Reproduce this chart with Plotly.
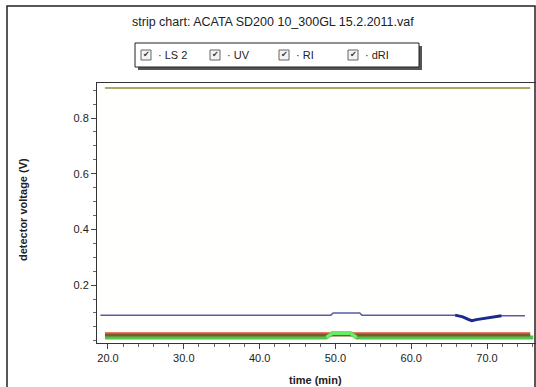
import plotly.graph_objects as go

# ---- data ----
title_text = "strip chart: ACATA SD200 10_300GL 15.2.2011.vaf"
legend_labels = ["LS 2", "UV", "RI", "dRI"]

x_ticks = [20.0, 30.0, 40.0, 50.0, 60.0, 70.0]
y_ticks = [0.2, 0.4, 0.6, 0.8]

ls2_time = [19.0, 49.4, 49.7, 53.2, 53.5, 65.8, 66.8, 67.6, 68.0, 68.6, 69.4, 70.2, 71.0, 71.9, 75.0]
ls2_volt = [0.092, 0.092, 0.100, 0.100, 0.092, 0.092, 0.086, 0.076, 0.072, 0.076, 0.080, 0.084, 0.087, 0.090, 0.090]
dip_start, dip_end = 5, 13

uv_time = [19.6, 75.7]
uv_volt = [0.027, 0.027]

ri_time = [19.6, 75.7]
ri_volt = [0.020, 0.020]

dri_time = [19.6, 48.8, 49.6, 52.0, 52.8, 76.1]
dri_volt = [0.012, 0.012, 0.027, 0.027, 0.012, 0.012]
bump_start, bump_end = 1, 4

top_time = [19.6, 75.7]
top_volt = [0.908, 0.908]

# ---- layout helpers (pixel -> paper) ----
W, H = 536, 387
L, R, T, B = 97, 0, 83, 44
PW, PH = W - L - R, H - T - B


def px(x):
    return (x - L) / PW


def py(y):
    return (H - B - y) / PH


fig = go.Figure()

fig.add_trace(go.Scatter(x=top_time, y=top_volt, mode="lines",
                         line=dict(color="#aaa768", width=2), showlegend=False))
fig.add_trace(go.Scatter(x=ls2_time, y=ls2_volt, mode="lines",
                         line=dict(color="#5a5aa6", width=1.5), showlegend=False))
fig.add_trace(go.Scatter(x=ls2_time[dip_start:dip_end + 1], y=ls2_volt[dip_start:dip_end + 1],
                         mode="lines", line=dict(color="#1c2a8c", width=3), showlegend=False))
fig.add_trace(go.Scatter(x=dri_time, y=dri_volt, mode="lines",
                         line=dict(color="#4cc84c", width=4), showlegend=False))
fig.add_trace(go.Scatter(x=uv_time, y=uv_volt, mode="lines",
                         line=dict(color="#e0503a", width=2), showlegend=False))
fig.add_trace(go.Scatter(x=ri_time, y=ri_volt, mode="lines",
                         line=dict(color="#7e5a2a", width=2.5), showlegend=False))
fig.add_trace(go.Scatter(x=dri_time[bump_start:bump_end + 1], y=dri_volt[bump_start:bump_end + 1],
                         mode="lines", line=dict(color="#66ee66", width=3.5), showlegend=False))

axis_font = dict(family="Liberation Sans, Arial, sans-serif", size=11, color="#222")

fig.update_xaxes(range=[18.55, 76.46], tickvals=x_ticks,
                 ticktext=[f"{v:.1f}" for v in x_ticks],
                 showgrid=False, zeroline=False, showline=True, linecolor="#333",
                 linewidth=1, mirror=True, ticks="outside", ticklen=5,
                 tickcolor="#444", tickfont=axis_font,
                 minor=dict(dtick=2, ticks="outside", ticklen=3, tickcolor="#666"))
fig.update_yaxes(range=[-0.008, 0.926], tickvals=y_ticks,
                 ticktext=[f"{v:.1f}" for v in y_ticks],
                 showgrid=False, zeroline=False, showline=True, linecolor="#333",
                 linewidth=1, ticks="outside", ticklen=5, tickcolor="#444",
                 tickfont=axis_font,
                 minor=dict(dtick=0.05, tick0=0, ticks="outside", ticklen=3, tickcolor="#666"))

shapes = []
# outer frame
shapes.append(dict(type="rect", xref="paper", yref="paper",
                   x0=px(7), x1=px(535), y0=py(392), y1=py(6),
                   line=dict(color="#222", width=1.5), fillcolor="rgba(0,0,0,0)", layer="below"))
# legend box shadow and box
shapes.append(dict(type="rect", xref="paper", yref="paper",
                   x0=px(138), x1=px(422), y0=py(70), y1=py(46),
                   line=dict(width=0), fillcolor="#555", layer="below"))
shapes.append(dict(type="rect", xref="paper", yref="paper",
                   x0=px(135), x1=px(419), y0=py(67), y1=py(43),
                   line=dict(color="#222", width=1), fillcolor="white", layer="below"))

annotations = []
box_x = [141, 210, 279, 348]
for bx, lab in zip(box_x, legend_labels):
    shapes.append(dict(type="rect", xref="paper", yref="paper",
                       x0=px(bx), x1=px(bx + 10), y0=py(60), y1=py(50),
                       line=dict(color="#666", width=1), fillcolor="#f4f4f4"))
    annotations.append(dict(x=px(bx + 5), y=py(55), xref="paper", yref="paper",
                            text="✔", showarrow=False, xanchor="center", yanchor="middle",
                            font=dict(family="DejaVu Sans", size=8, color="#333")))
    annotations.append(dict(x=px(bx + 15), y=py(55), xref="paper", yref="paper",
                            text="· " + lab, showarrow=False, xanchor="left", yanchor="middle",
                            font=dict(family="Liberation Sans, Arial", size=11, color="#222")))

annotations.append(dict(x=px(273), y=py(22), xref="paper", yref="paper", text=title_text,
                        showarrow=False, xanchor="center", yanchor="middle",
                        font=dict(family="Liberation Sans, Arial", size=12.5, color="#222")))
annotations.append(dict(x=px(23), y=py(210), xref="paper", yref="paper",
                        text="<b>detector voltage (V)</b>", textangle=-90,
                        showarrow=False, xanchor="center", yanchor="middle",
                        font=dict(family="Liberation Sans, Arial", size=11, color="#222")))
annotations.append(dict(x=px(315), y=py(380), xref="paper", yref="paper",
                        text="<b>time (min)</b>", showarrow=False,
                        xanchor="center", yanchor="middle",
                        font=dict(family="Liberation Sans, Arial", size=11, color="#222")))

fig.update_layout(width=W, height=H, margin=dict(l=L, r=R, t=T, b=B, pad=0),
                  paper_bgcolor="white", plot_bgcolor="#fffffd",
                  shapes=shapes, annotations=annotations, showlegend=False)

fig.write_html("out.html")
